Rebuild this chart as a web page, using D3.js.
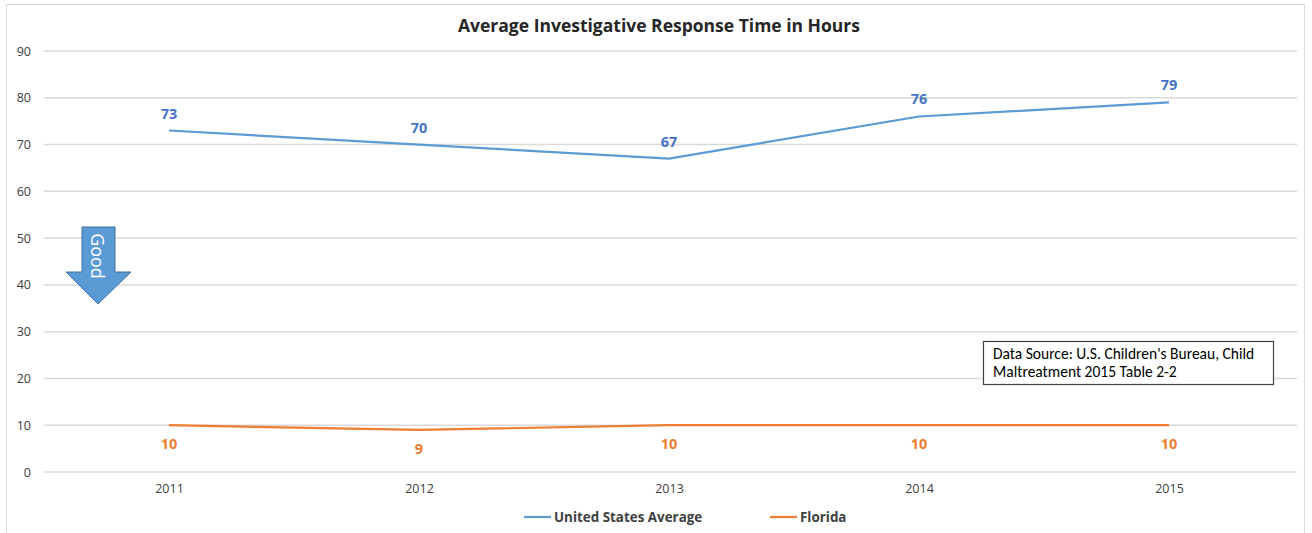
<!DOCTYPE html>
<html>
<head>
<meta charset="utf-8">
<script src="https://cdn.jsdelivr.net/npm/d3@7"></script>
<style>
  body { margin: 0; background: #fff; }
  text { font-family: "Open Sans", sans-serif; }
  text.src { font-family: Carlito, Calibri, Lato, sans-serif; }
</style>
</head>
<body>
<div id="chart"></div>
<script>
var years = ['2011', '2012', '2013', '2014', '2015']
var usAverage = [73, 70, 67, 76, 79]
var florida = [10, 9, 10, 10, 10]
var yTicks = [0, 10, 20, 30, 40, 50, 60, 70, 80, 90]
var seriesNames = ['United States Average', 'Florida']
var seriesColors = ['#5b9bd5', '#ed7d31']
var labelColors = ['#4472c4', '#ed7d31']

var width = 1312
var height = 533
var plotLeft = 44, plotRight = 1294, plotTop = 51, plotBottom = 472

var svg = d3.select('#chart').append('svg')
  .attr('width', width)
  .attr('height', height)

svg.append('rect')
  .attr('x', 6.5).attr('y', 4.5)
  .attr('width', 1298).attr('height', 540)
  .attr('fill', '#fff')
  .attr('stroke', '#d9d9d9')

var x = d3.scalePoint()
  .domain(years)
  .range([plotLeft, plotRight])
  .padding(0.5)
var y = d3.scaleLinear()
  .domain([0, 90])
  .range([plotBottom, plotTop])

// grid
svg.append('g')
  .selectAll('line')
  .data(yTicks)
  .enter().append('line')
    .attr('x1', plotLeft).attr('x2', 1297)
    .attr('y1', d => y(d)).attr('y2', d => y(d))
    .attr('stroke', '#d9d9d9')
    .attr('stroke-width', 1.5)

var yAxis = d3.axisLeft(y).tickValues(yTicks).tickSize(0).tickPadding(13)
svg.append('g')
  .attr('transform', 'translate(' + plotLeft + ',0)')
  .call(yAxis)
  .call(g => g.select('.domain').remove())
  .selectAll('text')
    .attr('font-family', '"Open Sans", sans-serif')
    .attr('font-size', 12.5)
    .attr('fill', '#404040')

var xAxis = d3.axisBottom(x).tickSize(0).tickPadding(12)
svg.append('g')
  .attr('transform', 'translate(0,' + plotBottom + ')')
  .call(xAxis)
  .call(g => g.select('.domain').remove())
  .selectAll('text')
    .attr('font-family', '"Open Sans", sans-serif')
    .attr('font-size', 12.5)
    .attr('fill', '#404040')

svg.append('text')
  .attr('x', 659).attr('y', 32)
  .attr('text-anchor', 'middle')
  .attr('font-size', 17.5)
  .attr('font-weight', 'bold')
  .attr('fill', '#262626')
  .text('Average Investigative Response Time in Hours')

var line = d3.line()
  .x((d, i) => x(years[i]))
  .y(d => y(d))

var series = [usAverage, florida]
series.forEach((s, k) => {
  svg.append('path')
    .datum(s)
    .attr('d', line)
    .attr('fill', 'none')
    .attr('stroke', seriesColors[k])
    .attr('stroke-width', 2.2)
  svg.append('g')
    .selectAll('text')
    .data(s)
    .enter().append('text')
      .attr('x', (d, i) => x(years[i]))
      .attr('y', d => k === 0 ? y(d) - 12 : y(d) + 24)
      .attr('text-anchor', 'middle')
      .attr('font-size', 14.5)
      .attr('font-weight', 'bold')
      .attr('fill', labelColors[k])
      .text(d => d)
})

// legend
var legendX = [524, 770]
seriesNames.forEach((n, k) => {
  svg.append('line')
    .attr('x1', legendX[k]).attr('x2', legendX[k] + 27)
    .attr('y1', 517).attr('y2', 517)
    .attr('stroke', seriesColors[k])
    .attr('stroke-width', 2.2)
  svg.append('text')
    .attr('x', legendX[k] + 30).attr('y', 522)
    .attr('font-size', 13.4)
    .attr('font-weight', 'bold')
    .attr('fill', '#404040')
    .text(n)
})

// Good arrow
svg.append('path')
  .attr('d', 'M82,227 L115,227 L115,272 L131,272 L98,304 L66,272 L82,272 Z')
  .attr('fill', '#5b9bd5')
  .attr('stroke', '#41719c')
  .attr('stroke-width', 1)
svg.append('text')
  .attr('transform', 'translate(91,256) rotate(90)')
  .attr('text-anchor', 'middle')
  .attr('font-size', 18)
  .attr('fill', '#fff')
  .text('Good')

// source box
svg.append('rect')
  .attr('x', 983.5).attr('y', 341.5)
  .attr('width', 290).attr('height', 43)
  .attr('fill', '#fff')
  .attr('stroke', '#404040')
  .attr('stroke-width', 1.2)
var src = svg.append('text')
  .attr('class', 'src')
  .attr('font-size', 15.5)
  .attr('fill', '#000')
src.append('tspan').attr('x', 993).attr('y', 359).text("Data Source: U.S. Children's Bureau, Child")
src.append('tspan').attr('x', 993).attr('y', 377).text('Maltreatment  2015 Table 2-2')
</script>
</body>
</html>
